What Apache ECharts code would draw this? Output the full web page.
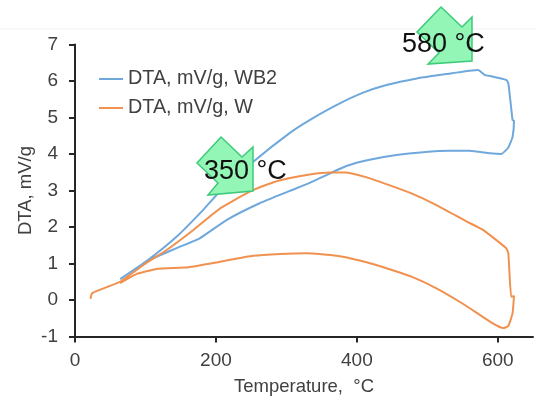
<!DOCTYPE html>
<html>
<head>
<meta charset="utf-8">
<title>DTA</title>
<script src="https://cdn.jsdelivr.net/npm/echarts@6/dist/echarts.min.js"></script>
<style>
    html, body { margin: 0; padding: 0; background: #fff; }
    #chart { width: 537px; height: 398px; }
</style>
</head>
<body>
<div id="chart"></div>
<script>
    // values: [temperature, DTA]
    var wb2Data = [
        [64, 0.57], [104, 1.1], [144, 1.73], [182, 2.47], [203, 2.92], [253, 3.79], [305, 4.58],
        [333, 4.93], [371, 5.34], [409, 5.68], [442, 5.89], [485, 6.07], [527, 6.19], [572, 6.3],
        [582, 6.16], [589, 6.14], [612, 6.03], [615, 5.94], [621, 4.93], [623, 4.91], [621, 4.47],
        [615, 4.18], [605, 4.0], [589, 4.02], [560, 4.09], [532, 4.09], [494, 4.05], [456, 3.97],
        [418, 3.84], [385, 3.67], [362, 3.47], [333, 3.21], [305, 2.99], [262, 2.65], [215, 2.19],
        [177, 1.69], [144, 1.42], [106, 1.1], [64, 0.57]
    ];
    var wData = [
        [22, 0.03], [24, 0.18], [31, 0.25], [64, 0.5], [97, 0.96], [130, 1.37], [168, 1.92],
        [206, 2.51], [248, 2.97], [281, 3.22], [305, 3.34], [333, 3.44], [362, 3.49], [383, 3.49],
        [414, 3.36], [447, 3.14], [480, 2.9], [513, 2.6], [556, 2.15], [579, 1.92], [612, 1.42],
        [615, 1.28], [619, 0.09], [623, 0.11], [621, -0.36], [615, -0.71], [608, -0.77], [593, -0.64],
        [551, -0.11], [513, 0.32], [480, 0.62], [442, 0.87], [404, 1.08], [371, 1.21], [329, 1.28],
        [291, 1.26], [253, 1.21], [206, 1.05], [161, 0.9], [116, 0.85], [87, 0.71], [64, 0.46]
    ];
    var xTicks = [0, 200, 400, 600];
    var wb2Name = 'DTA, mV/g, WB2';
    var wName = 'DTA, mV/g, W';

    var font = '"Liberation Sans", Arial, sans-serif';
    var arrowStyle = { fill: '#93f5b6', stroke: '#3ccb7a', lineWidth: 1.5 };

    var chart1 = echarts.init(document.getElementById('chart'), null, { renderer: 'canvas' });

    function note(text, x, y) {
        return {
            type: 'text', z: 102, x: x, y: y,
            style: { text: text, fill: '#111', font: '27px ' + font, textVerticalAlign: 'top' }
        };
    }

    var option = {
        animation: false,
        backgroundColor: '#fff',
        grid: { left: 75, right: 4, top: 44.5, bottom: 61.5, outerBoundsMode: 'none' },
        legend: {
            orient: 'vertical', left: 94, top: 63, icon: 'rect', itemWidth: 24, itemHeight: 2, itemGap: 7,
            selectedMode: false,
            textStyle: { fontFamily: font, fontSize: 19.8, color: '#404040', lineHeight: 22 },
            data: [wb2Name, wName]
        },
        xAxis: {
            type: 'value', min: 0, max: 650, interval: 200,
            name: 'Temperature,  °C', nameLocation: 'middle', nameGap: 41, nameMoveOverlap: false,
            nameTextStyle: { fontFamily: font, fontSize: 18.5, color: '#404040' },
            splitLine: { show: false },
            axisLine: { onZero: false, lineStyle: { color: '#262626', width: 2 } },
            axisTick: { length: 6, customValues: xTicks, lineStyle: { color: '#262626', width: 2 } },
            axisLabel: { customValues: xTicks, fontFamily: font, fontSize: 19, color: '#404040', margin: 15 }
        },
        yAxis: {
            type: 'value', min: -1, max: 7, interval: 1,
            name: 'DTA, mV/g', nameLocation: 'middle', nameGap: 40, nameRotate: 90, nameMoveOverlap: false,
            nameTextStyle: { fontFamily: font, fontSize: 18.5, color: '#404040' },
            splitLine: { show: false },
            axisLine: { onZero: false, lineStyle: { color: '#262626', width: 2 } },
            axisTick: { length: 6, lineStyle: { color: '#262626', width: 2 } },
            axisLabel: { fontFamily: font, fontSize: 19, color: '#404040', margin: 17 }
        },
        series: [
            {
                name: wb2Name, type: 'line', data: wb2Data, symbol: 'none', smooth: 0.15,
                lineStyle: { color: '#6fa8dc', width: 2 }, itemStyle: { color: '#6fa8dc' }
            },
            {
                name: wName, type: 'line', data: wData, symbol: 'none', smooth: 0.15,
                lineStyle: { color: '#f0914f', width: 2 }, itemStyle: { color: '#f0914f' }
            }
        ],
        graphic: [
            { type: 'line', z: 0, shape: { x1: 0, y1: 29, x2: 537, y2: 29 }, style: { stroke: '#f3f3f3', lineWidth: 1 } },
            {
                type: 'polygon', z: 100, style: arrowStyle,
                shape: { points: [[441, 7], [462, 27], [472, 17], [472, 61], [428, 64], [439, 53], [417, 32]] }
            },
            {
                type: 'polygon', z: 100, style: arrowStyle,
                shape: { points: [[221, 137], [242, 157], [253, 147], [253, 191], [208, 195], [218, 183], [197, 163]] }
            },
            note('580 °C', 402, 31),
            note('350 °C', 204, 158)
        ]
    };

    chart1.setOption(option);
</script>
</body>
</html>
